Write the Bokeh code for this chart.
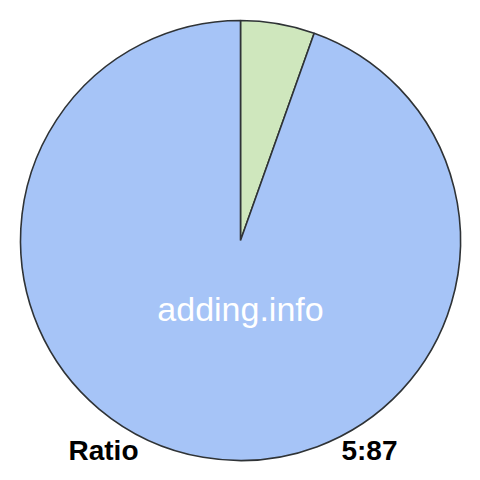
import math
from bokeh.plotting import figure
from bokeh.models import Range1d
from bokeh.core.properties import value
from bokeh.embed import file_html
from bokeh.resources import INLINE

labels = ["part", "rest"]
values = [5, 87]
colors = ["#cfe7bd", "#a6c4f7"]
title_left = "Ratio"
title_right = "5:87"
watermark = "adding.info"

p = figure(width=480, height=480, output_backend="svg", toolbar_location=None,
           x_range=Range1d(0, 480), y_range=Range1d(0, 480), min_border=0)
p.axis.visible = False
p.grid.visible = False
p.outline_line_color = None
p.background_fill_color = "white"

total = sum(values)
start = math.pi / 2
starts, ends = [], []
for v in values:
    ang = v / total * 2 * math.pi
    starts.append(start - ang)
    ends.append(start)
    start -= ang

p.wedge(x=240, y=240, radius=220, start_angle=starts, end_angle=ends,
        fill_color=colors, line_color="#2f3336", line_width=1.6)

p.text(x=[240], y=[172], text=[watermark], text_align="center", text_baseline="middle",
       text_color="white", text_font=value("Liberation Sans"), text_font_size="34px")
p.text(x=[68], y=[30], text=[title_left], text_align="left", text_baseline="middle",
       text_color="black", text_font=value("Liberation Sans"), text_font_size="28px",
       text_font_style="bold")
p.text(x=[397], y=[30], text=[title_right], text_align="right", text_baseline="middle",
       text_color="black", text_font=value("Liberation Sans"), text_font_size="28px",
       text_font_style="bold")

open("out.html", "w").write(file_html(p, INLINE))
